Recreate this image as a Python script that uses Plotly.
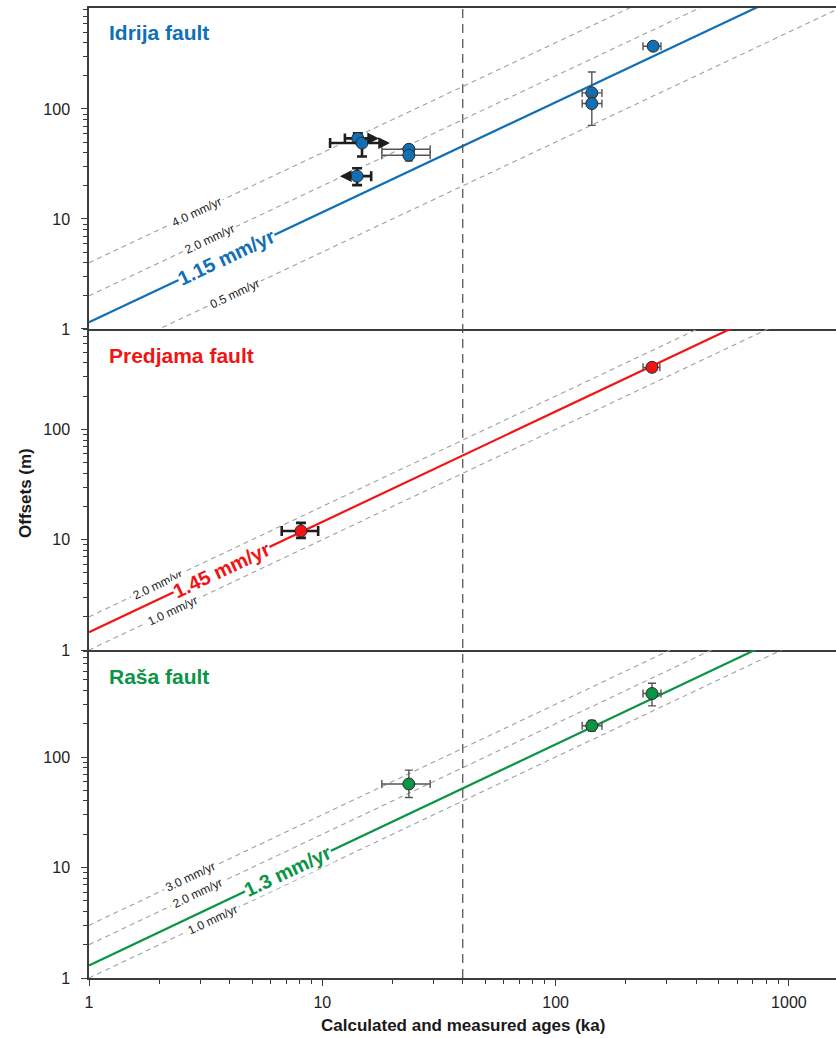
import math
import plotly.graph_objects as go

# ---------------- data ----------------
# Idrija fault
idrija_age = [14.2, 14.8, 23.5, 23.5, 14.1, 143, 143, 262]
idrija_off = [54, 49, 43, 38, 24.5, 140, 112, 372]
idrija_age_lo = [1.7, 4.0, 5.5, 5.5, 0.0, 13, 13, 25]
idrija_age_hi = [0.0, 0.0, 5.5, 5.5, 2.1, 15, 15, 21]
idrija_off_lo = [0.0, 12, 3, 4.3, 4.2, 20, 41, 0]
idrija_off_hi = [6, 0.0, 3, 3, 4.4, 77, 20, 0]
idrija_style = ["bold", "bold", "thin", "thin", "bold", "thin", "thin", "thin"]
idrija_arrow_tip = [17.5, 19.5, None, None, 11.9, None, None, None]
idrija_rate = 1.15
idrija_ref_rates = [4.0, 2.0, 0.5]

# Predjama fault
predjama_age = [8.1, 259]
predjama_off = [12, 365]
predjama_age_lo = [1.4, 22]
predjama_age_hi = [1.5, 21]
predjama_off_lo = [1.6, 30]
predjama_off_hi = [2.2, 30]
predjama_style = ["bold", "thin"]
predjama_arrow_tip = [None, None]
predjama_rate = 1.45
predjama_ref_rates = [2.0, 1.0]

# Raša fault
rasa_age = [23.5, 143, 259]
rasa_off = [57, 192, 375]
rasa_age_lo = [5.5, 13, 22]
rasa_age_hi = [5.5, 15, 24]
rasa_off_lo = [14, 20, 85]
rasa_off_hi = [19, 22, 90]
rasa_style = ["thin", "thin", "thin"]
rasa_arrow_tip = [None, None, None]
rasa_rate = 1.3
rasa_ref_rates = [3.0, 2.0, 1.0]

boundary_age = 40  # vertical dashed line (ka)
line_ages = [1, 2000]

# ---------------- styling / placement ----------------
FONT = "Liberation Sans, Arial, sans-serif"
X_MAX_LOG = 3.202
ANGLE = -math.degrees(math.atan(110.3 / 233.3))

panels = [
    dict(name="Idrija fault", color="#1170b5", ax="x", ay="y",
         age=idrija_age, off=idrija_off, alo=idrija_age_lo, ahi=idrija_age_hi,
         olo=idrija_off_lo, ohi=idrija_off_hi, style=idrija_style, tip=idrija_arrow_tip,
         rate=idrija_rate, refs=idrija_ref_rates,
         ref_label_age=[2.9, 3.3, 4.2], main_label_age=3.9,
         domain=[0.6691, 1.0], yrange=[0, 2.918], name_y=0.925),
    dict(name="Predjama fault", color="#f01414", ax="x2", ay="y2",
         age=predjama_age, off=predjama_off, alo=predjama_age_lo, ahi=predjama_age_hi,
         olo=predjama_off_lo, ohi=predjama_off_hi, style=predjama_style, tip=predjama_arrow_tip,
         rate=predjama_rate, refs=predjama_ref_rates,
         ref_label_age=[1.96, 2.27], main_label_age=3.7,
         domain=[0.3381, 0.6691], yrange=[0, 2.91], name_y=0.916),
    dict(name="Raša fault", color="#0b9446", ax="x3", ay="y3",
         age=rasa_age, off=rasa_off, alo=rasa_age_lo, ahi=rasa_age_hi,
         olo=rasa_off_lo, ohi=rasa_off_hi, style=rasa_style, tip=rasa_arrow_tip,
         rate=rasa_rate, refs=rasa_ref_rates,
         ref_label_age=[2.71, 2.93, 3.37], main_label_age=7.1,
         domain=[0.0, 0.3381], yrange=[0, 2.968], name_y=0.92),
]

fig = go.Figure()
annotations = []
shapes = []

for p in panels:
    for r in p["refs"]:
        fig.add_trace(go.Scatter(
            x=line_ages, y=[r * a for a in line_ages], mode="lines",
            line=dict(color="#a0a0a0", width=1.1, dash="5px,4px"),
            xaxis=p["ax"], yaxis=p["ay"], showlegend=False, hoverinfo="skip"))
    fig.add_trace(go.Scatter(
        x=line_ages, y=[p["rate"] * a for a in line_ages], mode="lines",
        line=dict(color=p["color"], width=2.2),
        xaxis=p["ax"], yaxis=p["ay"], showlegend=False, hoverinfo="skip"))

    order = sorted(range(len(p["age"])), key=lambda i: 0 if p["style"][i] == "thin" else 1)
    for i in order:
        bold = p["style"][i] == "bold"
        ecol = "#1e1e1e" if bold else "#555555"
        ew = 2.6 if bold else 1.4
        ewid = 5 if bold else 4
        fig.add_trace(go.Scatter(
            x=[p["age"][i]], y=[p["off"][i]], mode="markers",
            marker=dict(size=12, color=p["color"], line=dict(color="#2a2a2a", width=1)),
            error_x=dict(type="data", symmetric=False, array=[p["ahi"][i]],
                         arrayminus=[p["alo"][i]], color=ecol, thickness=ew, width=ewid),
            error_y=dict(type="data", symmetric=False, array=[p["ohi"][i]],
                         arrayminus=[p["olo"][i]], color=ecol, thickness=ew, width=ewid),
            xaxis=p["ax"], yaxis=p["ay"], showlegend=False))
        if p["tip"][i] is not None:
            annotations.append(dict(
                x=math.log10(p["tip"][i]), y=math.log10(p["off"][i]),
                ax=math.log10(p["age"][i]), ay=math.log10(p["off"][i]),
                xref=p["ax"], yref=p["ay"], axref=p["ax"], ayref=p["ay"],
                text="", showarrow=True, arrowhead=2, arrowsize=0.9,
                arrowwidth=2.6, arrowcolor="#1e1e1e", startstandoff=5))

    for r, la in zip(p["refs"], p["ref_label_age"]):
        annotations.append(dict(
            x=math.log10(la), y=math.log10(r * la), xref=p["ax"], yref=p["ay"],
            text=f"{r:.1f} mm/yr", showarrow=False, textangle=ANGLE,
            font=dict(family=FONT, size=12, color="#222222"),
            bgcolor="white", borderpad=2))
    annotations.append(dict(
        x=math.log10(p["main_label_age"]), y=math.log10(p["rate"] * p["main_label_age"]),
        xref=p["ax"], yref=p["ay"],
        text=f"<b>{p['rate']:g} mm/yr</b>", showarrow=False, textangle=ANGLE,
        font=dict(family=FONT, size=20, color=p["color"]),
        bgcolor="white", borderpad=0))
    annotations.append(dict(
        x=0.024, y=p["name_y"], xref="paper", yref=p["ay"] + " domain",
        text=f"<b>{p['name']}</b>", showarrow=False, xanchor="left", yanchor="middle",
        font=dict(family=FONT, size=21, color=p["color"])))

# vertical dashed boundary line (shapes on log axes take data values)
shapes.append(dict(type="line", xref="x3", yref="paper",
                   x0=boundary_age, x1=boundary_age, y0=0, y1=1,
                   line=dict(color="#4a4a4a", width=1.2, dash="9px,6px")))

annotations.append(dict(x=-0.0857, y=0.5, xref="paper", yref="paper",
                        text="<b>Offsets (m)</b>", showarrow=False, textangle=-90,
                        xanchor="center", yanchor="middle",
                        font=dict(family=FONT, size=17, color="#1a1a1a")))
annotations.append(dict(x=0.5, y=-0.0485, xref="paper", yref="paper",
                        text="<b>Calculated and measured ages (ka)</b>", showarrow=False,
                        xanchor="center", yanchor="middle",
                        font=dict(family=FONT, size=17, color="#1a1a1a")))

layout = dict(
    width=836, height=1038,
    margin=dict(l=89, r=0, t=8, b=60),
    paper_bgcolor="white", plot_bgcolor="white",
    font=dict(family=FONT, size=16, color="#222222"),
    showlegend=False,
    annotations=annotations, shapes=shapes,
)

axis_line = dict(showline=True, linecolor="#3c3c3c", linewidth=1.5, showgrid=False, zeroline=False)
tick_common = dict(ticks="outside", ticklen=6, tickwidth=1.2, tickcolor="#3c3c3c",
                   tickfont=dict(family=FONT, size=16, color="#222"),
                   tickmode="linear", tick0=0, dtick=1, exponentformat="none",
                   minor=dict(ticks="outside", ticklen=4, tickwidth=1, tickcolor="#3c3c3c"))
for k, p in enumerate(panels):
    xs = "xaxis" if k == 0 else f"xaxis{k+1}"
    ys = "yaxis" if k == 0 else f"yaxis{k+1}"
    xa = dict(type="log", range=[0, X_MAX_LOG], anchor=p["ay"], mirror=(k == 0), **axis_line)
    if k < 2:
        xa.update(showticklabels=False, ticks="")
    else:
        xa.update(**tick_common, ticklabelstandoff=3)
    ya = dict(type="log", range=p["yrange"], domain=p["domain"], anchor=p["ax"],
              ticklabelstandoff=8, **tick_common, **axis_line)
    layout[xs] = xa
    layout[ys] = ya

fig.update_layout(**layout)
# remove the default 8px page margin so the figure sits at the window's top-left corner
fig.write_html("out.html", config={"displayModeBar": False},
               post_script="document.body.style.margin='0';document.body.style.overflow='hidden';")
